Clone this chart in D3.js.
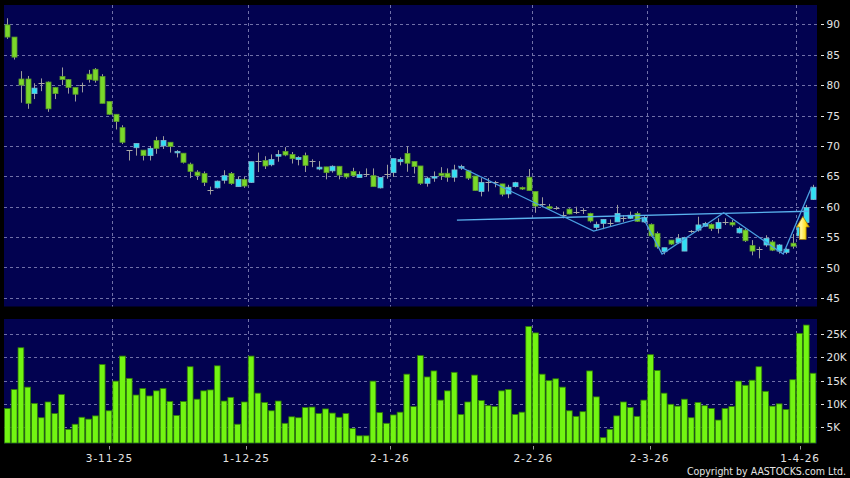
<!DOCTYPE html>
<html>
<head>
<meta charset="utf-8">
<title>Daily candlestick chart</title>
<script src="https://d3js.org/d3.v7.min.js"></script>
<style>
body { margin: 0; background: #000; }
svg { display: block; }
</style>
</head>
<body>
<script type="text/javascript">

// daily prices, oldest first (120 sessions)
var openP = [89.9, 87.9, 81.0, 81.0, 78.6, 80.3, 80.5, 79.6, 81.4, 80.9,
  79.6, 80.0, 81.8, 82.6, 81.4, 77.3, 75.2, 73.0, 69.3, 69.7,
  69.3, 68.4, 70.9, 70.0, 70.6, 69.0, 68.8, 67.0, 65.7, 65.45,
  62.8, 63.1, 64.35, 65.45, 63.3, 64.5, 64.0, 67.5, 67.6, 66.9,
  68.3, 69.1, 68.6, 67.75, 68.4, 67.5, 66.2, 66.55, 65.9, 66.65,
  65.45, 65.8, 64.8, 65.3, 65.1, 63.1, 65.45, 65.6, 67.4, 68.75,
  67.45, 66.7, 63.85, 64.7, 65.5, 65.5, 64.85, 66.4, 65.9, 65.05,
  62.5, 64.0, 64.0, 63.75, 62.1, 63.3, 63.15, 64.85, 62.5, 60.45,
  60.0, 59.85, 58.65, 59.6, 59.2, 59.5, 58.9, 56.6, 57.25, 57.4,
  57.5, 58.1, 58.1, 58.9, 57.5, 57.1, 55.6, 52.6, 54.5, 54.05,
  52.7, 56.0, 56.15, 56.8, 57.1, 56.4, 57.5, 57.4, 55.7, 56.15,
  53.6, 53.1, 53.7, 54.2, 52.7, 52.5, 54.0, 55.2, 57.4, 61.2];

var highP = [91.0, 87.9, 82.3, 81.5, 80.3, 81.1, 80.6, 79.7, 82.9, 81.0,
  79.6, 80.4, 82.5, 82.8, 81.8, 77.3, 75.2, 73.4, 69.3, 70.4,
  69.3, 70.0, 71.5, 71.6, 70.6, 69.3, 68.8, 67.25, 66.0, 65.8,
  63.3, 64.3, 66.0, 65.7, 64.9, 64.9, 67.4, 68.9, 68.3, 68.6,
  69.3, 69.8, 69.0, 68.3, 68.9, 67.8, 67.5, 66.55, 66.8, 66.65,
  65.55, 66.4, 65.8, 66.3, 66.3, 64.8, 66.9, 67.9, 68.1, 69.95,
  67.45, 66.7, 64.95, 65.8, 66.5, 66.3, 66.9, 66.9, 66.05, 65.05,
  64.7, 64.7, 64.25, 63.75, 63.6, 64.1, 63.3, 66.2, 62.5, 61.55,
  60.45, 60.1, 59.2, 59.75, 60.0, 59.75, 59.0, 57.55, 57.9, 57.9,
  60.3, 58.6, 59.2, 59.2, 58.45, 57.25, 55.9, 53.25, 54.5, 55.5,
  55.05, 56.15, 58.35, 57.5, 57.25, 58.1, 58.1, 57.8, 56.7, 56.4,
  54.5, 53.4, 55.3, 54.5, 53.85, 53.15, 55.5, 57.0, 60.3, 63.6];

var lowP = [87.6, 84.2, 77.1, 76.1, 77.7, 79.0, 75.6, 77.7, 80.0, 78.6,
  77.3, 78.8, 80.4, 80.4, 77.0, 75.1, 72.7, 70.3, 67.6, 68.4,
  67.6, 67.6, 68.7, 69.5, 68.9, 68.1, 67.1, 64.7, 64.4, 63.4,
  62.0, 63.0, 63.8, 63.6, 63.3, 63.1, 63.9, 65.7, 66.2, 66.65,
  67.4, 68.3, 67.1, 66.8, 65.7, 66.5, 66.0, 64.5, 65.6, 64.5,
  64.6, 64.9, 64.8, 64.9, 63.3, 63.0, 64.6, 64.9, 66.8, 65.75,
  65.45, 63.6, 63.3, 64.1, 64.4, 64.1, 64.1, 66.05, 64.4, 62.6,
  61.7, 62.5, 63.2, 61.7, 61.4, 63.15, 62.75, 62.65, 59.0, 59.9,
  59.5, 59.5, 58.1, 58.75, 58.8, 58.8, 57.4, 56.2, 56.3, 56.8,
  57.5, 57.5, 58.0, 57.5, 57.35, 55.05, 53.1, 52.15, 53.7, 53.85,
  52.7, 55.7, 55.9, 56.7, 56.0, 55.6, 57.0, 56.7, 55.6, 54.2,
  52.0, 51.5, 53.4, 52.7, 52.3, 52.2, 53.1, 54.6, 57.25, 61.1];

var closeP = [87.9, 84.6, 80.0, 77.0, 79.5, 80.3, 76.1, 78.6, 80.9, 79.6,
  78.5, 80.0, 80.9, 80.8, 77.0, 75.2, 74.0, 70.6, 69.3, 70.4,
  68.4, 69.6, 69.6, 70.9, 69.9, 69.1, 67.3, 65.8, 65.1, 64.0,
  62.8, 64.2, 65.1, 63.8, 64.5, 63.4, 67.4, 67.5, 66.7, 67.75,
  68.6, 68.5, 67.9, 68.1, 66.8, 67.5, 66.5, 65.6, 66.65, 65.2,
  64.9, 65.1, 65.3, 65.3, 63.3, 64.8, 65.45, 67.9, 67.75, 67.15,
  66.6, 63.85, 64.7, 64.95, 65.1, 64.85, 66.05, 66.6, 64.7, 62.65,
  64.0, 64.0, 64.0, 62.05, 63.2, 63.95, 62.9, 62.65, 60.1, 60.45,
  59.7, 59.85, 58.65, 58.8, 59.2, 59.5, 57.65, 57.1, 57.9, 57.4,
  58.9, 58.1, 58.6, 57.6, 58.2, 55.2, 53.4, 53.25, 53.85, 54.8,
  54.9, 56.0, 57.0, 57.25, 56.4, 57.4, 57.5, 57.0, 56.4, 54.4,
  52.7, 53.1, 54.8, 52.85, 53.7, 53.0, 53.5, 56.8, 59.85, 63.2];

// volume, thousands of shares
var volume = [9.0, 13.1, 22.1, 13.6, 10.1, 7.0, 10.4, 7.9, 12.0, 4.5,
  5.6, 7.1, 6.7, 7.4, 18.5, 8.5, 14.9, 20.3, 15.5, 11.9,
  13.3, 11.7, 12.8, 13.3, 10.5, 7.5, 10.5, 18.0, 11.0, 12.8,
  13.0, 18.2, 10.6, 11.4, 5.6, 10.4, 20.3, 12.3, 10.3, 8.5,
  10.6, 5.8, 7.2, 7.0, 9.2, 9.3, 7.9, 8.9, 8.0, 7.1,
  7.9, 4.7, 3.1, 3.1, 14.9, 8.1, 5.8, 7.6, 8.2, 16.4,
  9.4, 20.4, 15.8, 17.1, 10.8, 12.8, 16.8, 7.7, 10.4, 16.2,
  10.7, 9.6, 9.4, 12.8, 13.1, 7.7, 8.2, 26.7, 25.3, 16.4,
  15.0, 15.4, 13.6, 8.5, 7.3, 8.3, 17.1, 11.5, 2.7, 4.5,
  7.4, 10.4, 9.2, 7.3, 10.8, 20.6, 17.2, 12.3, 9.9, 9.5,
  11.0, 7.0, 10.3, 9.6, 9.0, 6.5, 9.0, 9.4, 14.9, 14.0,
  15.1, 18.0, 12.7, 9.5, 10.0, 8.8, 15.2, 25.2, 27.0, 16.6];

// date ticks (session index of each labelled day)
var tickIdx = [16, 36, 57, 78, 95, 117];
var tickLabels = ["3-11-25", "1-12-25", "2-1-26", "2-2-26", "2-3-26", "1-4-26"];

var priceTicks = [45, 50, 55, 60, 65, 70, 75, 80, 85, 90];
var volTicks = [5, 10, 15, 20, 25];
var volLabels = ["5K", "10K", "15K", "20K", "25K"];

// hand drawn lines on the chart, [session index, price]
var zigzag = [[66.6, 66.7], [86.6, 56.0], [93.9, 58.2], [96.7, 52.2],
  [105.8, 59.0], [114.6, 52.2], [118.8, 63.3]];
var flatLine = [[66.4, 57.8], [118.3, 59.25]];
var arrowMark = {idx: 117.5, from: 54.6, to: 58.4};

var width = 850;
var height = 478;

var svg = d3.select("body")
            .append("svg")
            .attr("width", width)
            .attr("height", height)
            .style("background", "#000");

var panelL = 4, panelR = 817;
var priceTop = 5, priceBot = 306.5;
var volTop = 319, volBot = 443.5;

var n = closeP.length;
var x = d3.scaleLinear().domain([-0.5, n - 0.5]).range([panelL, 816.4]);
// the date ticks sit on a slightly wider scale than the candles
var xTick = d3.scaleLinear().domain([0, 120]).range([0.1, 820.5]);
var yP = d3.scaleLinear().domain([45, 90]).range([297.9, 24.3]);
var yV = d3.scaleLinear().domain([5, 25]).range([427, 334.3]);

var font = "'DejaVu Sans', Verdana, sans-serif";
var gridColor = "#7070a8";
var labelColor = "#e4e4e4";

// panels
svg.append("rect")
   .attr("x", panelL).attr("y", priceTop)
   .attr("width", panelR - panelL).attr("height", priceBot - priceTop)
   .attr("fill", "#020250");

svg.append("rect")
   .attr("x", panelL).attr("y", volTop)
   .attr("width", panelR - panelL).attr("height", volBot - volTop)
   .attr("fill", "#020250");

var gGrid = svg.append("g")
               .attr("stroke", gridColor)
               .attr("stroke-width", 1)
               .attr("stroke-dasharray", "3,3");

// horizontal grid, price
gGrid.selectAll(".hp")
     .data(priceTicks)
     .enter()
     .append("line")
     .attr("x1", panelL).attr("x2", panelR)
     .attr("y1", function(d){ return Math.round(yP(d)) + 0.5; })
     .attr("y2", function(d){ return Math.round(yP(d)) + 0.5; });

// horizontal grid, volume
gGrid.selectAll(".hv")
     .data(volTicks)
     .enter()
     .append("line")
     .attr("x1", panelL).attr("x2", panelR)
     .attr("y1", function(d){ return Math.round(yV(d)) + 0.5; })
     .attr("y2", function(d){ return Math.round(yV(d)) + 0.5; });

// vertical grid, both panels
tickIdx.forEach(function(t){
  var gx = Math.round(x(t - 0.5)) + 0.5;
  gGrid.append("line").attr("x1", gx).attr("x2", gx).attr("y1", priceTop).attr("y2", priceBot);
  gGrid.append("line").attr("x1", gx).attr("x2", gx).attr("y1", volTop).attr("y2", volBot);
});

// right axis, price
var gPA = svg.append("g");
gPA.selectAll("line")
   .data(priceTicks)
   .enter()
   .append("line")
   .attr("x1", 821).attr("x2", 824)
   .attr("y1", function(d){ return Math.round(yP(d)) + 0.5; })
   .attr("y2", function(d){ return Math.round(yP(d)) + 0.5; })
   .attr("stroke", labelColor);
gPA.selectAll("text")
   .data(priceTicks)
   .enter()
   .append("text")
   .attr("x", 826.5)
   .attr("y", function(d){ return yP(d) + 4; })
   .attr("fill", labelColor)
   .style("font", "10.5px " + font)
   .text(function(d){ return d; });

// right axis, volume
var gVA = svg.append("g");
gVA.selectAll("line")
   .data(volTicks)
   .enter()
   .append("line")
   .attr("x1", 821).attr("x2", 824)
   .attr("y1", function(d){ return Math.round(yV(d)) + 0.5; })
   .attr("y2", function(d){ return Math.round(yV(d)) + 0.5; })
   .attr("stroke", labelColor);
gVA.selectAll("text")
   .data(volTicks)
   .enter()
   .append("text")
   .attr("x", 826.5)
   .attr("y", function(d){ return yV(d) + 4; })
   .attr("fill", labelColor)
   .style("font", "10.5px " + font)
   .text(function(d, i){ return volLabels[i]; });

// date axis
var gX = svg.append("g");
gX.selectAll("line")
  .data(tickIdx)
  .enter()
  .append("line")
  .attr("x1", function(d){ return Math.round(xTick(d)) + 0.5; })
  .attr("x2", function(d){ return Math.round(xTick(d)) + 0.5; })
  .attr("y1", 446).attr("y2", 449.5)
  .attr("stroke", "#9a9a9a");
gX.selectAll("text")
  .data(tickIdx)
  .enter()
  .append("text")
  .attr("x", function(d){ return xTick(d); })
  .attr("y", 461.5)
  .attr("text-anchor", "middle")
  .attr("fill", labelColor)
  .style("font", "10.5px " + font)
  .style("letter-spacing", "0.9px")
  .text(function(d, i){ return tickLabels[i]; });

// volume bars
var idx = d3.range(n);
svg.append("g")
   .selectAll("rect")
   .data(idx)
   .enter()
   .append("rect")
   .attr("x", function(i){ return x(i) - 2.9; })
   .attr("width", 5.8)
   .attr("y", function(i){ return yV(volume[i]); })
   .attr("height", function(i){ return volBot - 0.5 - yV(volume[i]); })
   .attr("fill", "#72f512")
   .attr("stroke", "#2f7a08")
   .attr("stroke-width", 0.8);

// candles
var gC = svg.append("g");

gC.selectAll(".wick")
  .data(idx)
  .enter()
  .append("line")
  .attr("x1", function(i){ return Math.round(x(i)) + 0.5; })
  .attr("x2", function(i){ return Math.round(x(i)) + 0.5; })
  .attr("y1", function(i){ return yP(highP[i]); })
  .attr("y2", function(i){ return yP(lowP[i]); })
  .attr("stroke", "#9c9c9c")
  .attr("stroke-width", 1);

gC.selectAll(".body")
  .data(idx.filter(function(i){ return openP[i] != closeP[i]; }))
  .enter()
  .append("rect")
  .attr("x", function(i){ return Math.round(x(i)) - 2; })
  .attr("width", 5)
  .attr("y", function(i){ return yP(Math.max(openP[i], closeP[i])); })
  .attr("height", function(i){
    return Math.max(1.5, Math.abs(yP(openP[i]) - yP(closeP[i])));
  })
  .attr("fill", function(i){ return closeP[i] > openP[i] ? "#2fe0f5" : "#7ad82a"; })
  .attr("stroke", function(i){ return closeP[i] > openP[i] ? "#7fb8d0" : "#5a9a2a"; })
  .attr("stroke-width", 0.8);

gC.selectAll(".doji")
  .data(idx.filter(function(i){ return openP[i] == closeP[i]; }))
  .enter()
  .append("line")
  .attr("x1", function(i){ return Math.round(x(i)) - 2.5; })
  .attr("x2", function(i){ return Math.round(x(i)) + 3.5; })
  .attr("y1", function(i){ return Math.round(yP(closeP[i])) + 0.5; })
  .attr("y2", function(i){ return Math.round(yP(closeP[i])) + 0.5; })
  .attr("stroke", "#a8a8a8")
  .attr("stroke-width", 1);

// trend lines
var line = d3.line()
             .x(function(d){ return x(d[0]); })
             .y(function(d){ return yP(d[1]); });

svg.append("path")
   .attr("d", line(flatLine))
   .attr("fill", "none")
   .attr("stroke", "#5ab2ee")
   .attr("stroke-width", 1.4);

svg.append("path")
   .attr("d", line(zigzag))
   .attr("fill", "none")
   .attr("stroke", "#4a9fe0")
   .attr("stroke-width", 1.3);

// yellow up arrow
var defs = svg.append("defs");
var grad = defs.append("linearGradient")
               .attr("id", "arrowFill")
               .attr("x1", "0").attr("x2", "1").attr("y1", "0").attr("y2", "0");
grad.append("stop").attr("offset", "0").attr("stop-color", "#f5d000");
grad.append("stop").attr("offset", "0.35").attr("stop-color", "#fff6a0");
grad.append("stop").attr("offset", "0.7").attr("stop-color", "#ffe020");
grad.append("stop").attr("offset", "1").attr("stop-color", "#d8a000");

var ax = x(arrowMark.idx);
var aTop = yP(arrowMark.to);
var aBot = yP(arrowMark.from);
var headH = (aBot - aTop) * 0.46;
var arrowPath = "M" + ax + "," + aTop +
  " L" + (ax + 6.5) + "," + (aTop + headH) +
  " L" + (ax + 3.3) + "," + (aTop + headH) +
  " L" + (ax + 3.3) + "," + aBot +
  " L" + (ax - 3.3) + "," + aBot +
  " L" + (ax - 3.3) + "," + (aTop + headH) +
  " L" + (ax - 6.5) + "," + (aTop + headH) + " Z";

svg.append("path")
   .attr("d", arrowPath)
   .attr("fill", "url(#arrowFill)")
   .attr("stroke", "#a07800")
   .attr("stroke-width", 0.8);

// copyright
svg.append("text")
   .attr("x", 846)
   .attr("y", 475)
   .attr("text-anchor", "end")
   .attr("fill", labelColor)
   .style("font-family", "'DejaVu Sans Condensed', 'DejaVu Sans', sans-serif")
   .style("font-stretch", "condensed")
   .style("font-size", "10.5px")
   .text("Copyright by AASTOCKS.com Ltd.");

</script>
</body>
</html>
